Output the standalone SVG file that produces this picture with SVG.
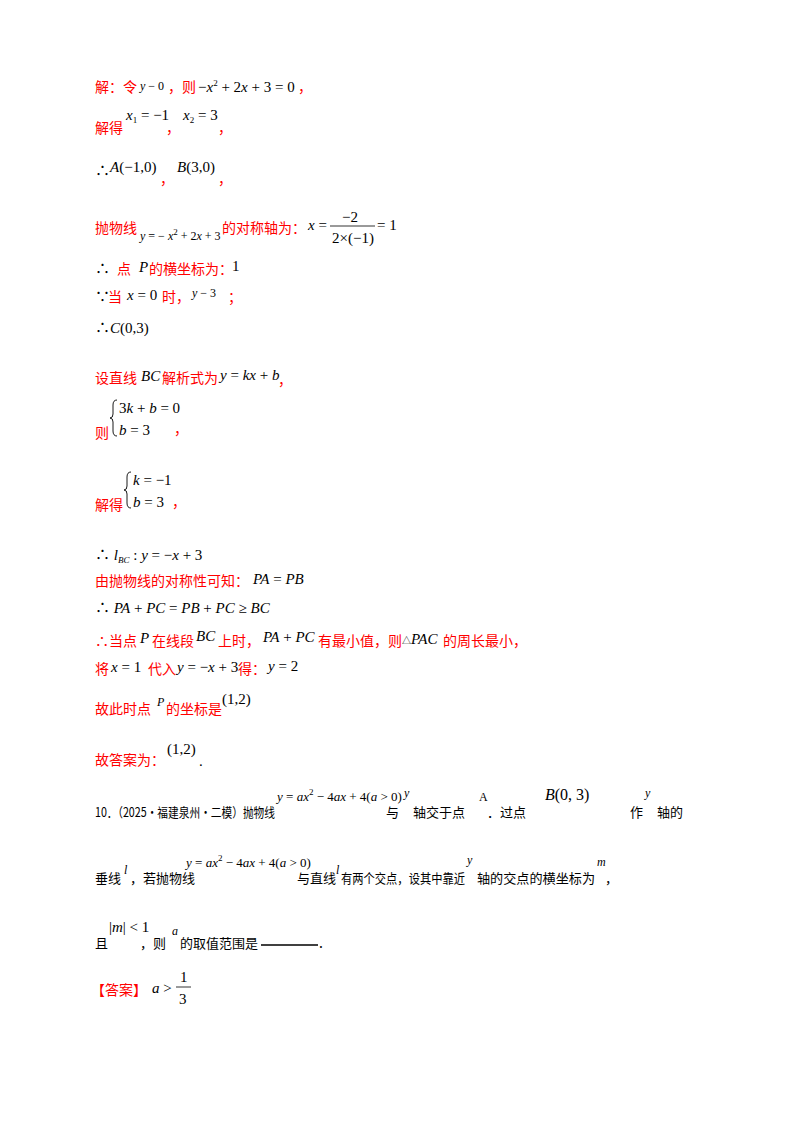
<svg xmlns="http://www.w3.org/2000/svg" width="800" height="1132" viewBox="0 0 800 1132">
<style>
text{font-family:"Noto Sans CJK SC","Liberation Sans",sans-serif;font-size:14px;fill:#000}
.k{font-size:13px}
.r{fill:#f00}
.m{font-family:"Liberation Serif","Noto Sans CJK SC",serif;font-size:15px}
.n{font-size:13px}
.i{font-style:italic}
.s{font-size:12px}
.t{font-size:9px}
.b{fill:none;stroke:#000;stroke-width:0.9}
</style>
<rect width="800" height="1132" fill="#fff"/>
<text x="95" y="92" class="r">解：令</text><text x="140" y="90" class="m s"><tspan class="i">y</tspan> − 0</text><text x="168" y="92" class="r">，则</text><text x="198" y="92" class="m">−<tspan class="i">x</tspan><tspan class="t" dy="-6">2</tspan><tspan dy="6"> + 2</tspan><tspan class="i">x</tspan> + 3 = 0</text><text x="298" y="92" class="r">，</text>
<text x="95" y="133" class="r">解得</text><text x="126" y="120" class="m"><tspan class="i">x</tspan><tspan class="t" dy="3">1</tspan><tspan dy="-3"> = −1</tspan></text><text x="166" y="133" class="r">，</text><text x="183" y="120" class="m"><tspan class="i">x</tspan><tspan class="t" dy="3">2</tspan><tspan dy="-3"> = 3</tspan></text><text x="218" y="133" class="r">，</text>
<text x="95" y="176" class="m">∴ </text><text x="110" y="172" class="m"><tspan class="i">A</tspan>(−1,0)</text><text x="160" y="184" class="r">，</text><text x="177" y="172" class="m"><tspan class="i">B</tspan>(3,0)</text><text x="218" y="184" class="r">，</text>
<text x="95" y="233" class="r">抛物线</text><text x="140" y="240" class="m s"><tspan class="i">y</tspan> = − <tspan class="i">x</tspan><tspan class="t" dy="-5">2</tspan><tspan dy="5"> + 2</tspan><tspan class="i">x</tspan> + 3</text><text x="222" y="233" class="r">的对称轴为：</text>
<text x="308" y="230" class="m"><tspan class="i">x</tspan> =</text><text x="342" y="222" class="m">−2</text><line x1="330" y1="226" x2="375" y2="226" stroke="#000" stroke-width="0.8"/><text x="332" y="243" class="m">2×(−1)</text><text x="377" y="230" class="m">= 1</text>
<text x="95" y="274" class="m">∴</text><text x="117" y="274" class="r">点</text><text x="139" y="272" class="m i">P</text><text x="149" y="274" class="r">的横坐标为：</text><text x="232" y="271" class="m">1</text>
<text x="95" y="302" class="m">∵</text><text x="108" y="302" class="r">当</text><text x="127" y="300" class="m"><tspan class="i">x</tspan> = 0</text><text x="162" y="302" class="r">时，</text><text x="192" y="297" class="m s"><tspan class="i">y</tspan> − 3</text><text x="228" y="302" class="r">；</text>
<text x="95" y="333" class="m">∴<tspan class="i">C</tspan>(0,3)</text>
<text x="95" y="383" class="r">设直线</text><text x="141" y="381" class="m i">BC</text><text x="162" y="383" class="r">解析式为</text><text x="220" y="380" class="m"><tspan class="i">y</tspan> = <tspan class="i">kx</tspan> + <tspan class="i">b</tspan></text><text x="278" y="385" class="r">，</text>
<text x="95" y="438" class="r">则</text><path class="b" d="M117,400 Q113,400 113,405 L113,414 Q113,418 110,418 Q113,418 113,422 L113,431 Q113,436 117,436"/><text x="119" y="413" class="m"><tspan>3</tspan><tspan class="i">k</tspan> + <tspan class="i">b</tspan> = 0</text><text x="119" y="435" class="m"><tspan class="i">b</tspan> = 3</text><text x="174" y="434" class="r">，</text>
<text x="95" y="510" class="r">解得</text><path class="b" d="M131,472 Q127,472 127,477 L127,486 Q127,490 124,490 Q127,490 127,494 L127,503 Q127,508 131,508"/><text x="133" y="485" class="m"><tspan class="i">k</tspan> = −1</text><text x="133" y="507" class="m"><tspan class="i">b</tspan> = 3</text><text x="172" y="507" class="r">，</text>
<text x="95" y="560" class="m">∴ <tspan class="i">l</tspan><tspan class="t i" dy="3">BC</tspan><tspan dy="-3"> : </tspan><tspan class="i">y</tspan> = −<tspan class="i">x</tspan> + 3</text>
<text x="95" y="586" class="r">由抛物线的对称性可知：</text><text x="253" y="584" class="m"><tspan class="i">PA</tspan> = <tspan class="i">PB</tspan></text>
<text x="95" y="613" class="m">∴ <tspan class="i">PA</tspan> + <tspan class="i">PC</tspan> = <tspan class="i">PB</tspan> + <tspan class="i">PC</tspan> ≥ <tspan class="i">BC</tspan></text>
<text x="95" y="646" class="r">∴当点</text><text x="140" y="643" class="m i">P</text><text x="152" y="646" class="r">在线段</text><text x="196" y="641" class="m i">BC</text><text x="218" y="646" class="r">上时，</text><text x="263" y="642" class="m"><tspan class="i">PA</tspan> + <tspan class="i">PC</tspan></text><text x="318" y="646" class="r">有最小值，则</text><text x="402" y="644" class="m"><tspan class="t">△</tspan><tspan class="i">PAC</tspan></text><text x="443" y="646" class="r">的周长最小，</text>
<text x="95" y="674" class="r">将</text><text x="111" y="672" class="m"><tspan class="i">x</tspan> = 1</text><text x="148" y="674" class="r">代入</text><text x="177" y="672" class="m"><tspan class="i">y</tspan> = −<tspan class="i">x</tspan> + 3</text><text x="238" y="674" class="r">得：</text><text x="268" y="671" class="m"><tspan class="i">y</tspan> = 2</text>
<text x="95" y="714" class="r">故此时点</text><text x="157" y="706" class="m i s">P</text><text x="166" y="714" class="r">的坐标是</text><text x="222" y="704" class="m">(1,2)</text>
<text x="95" y="765" class="r">故答案为：</text><text x="167" y="754" class="m">(1,2)</text><text x="199" y="766" class="m">.</text>
<text x="95" y="817" class="k" textLength="180" lengthAdjust="spacingAndGlyphs">10．（2025·福建泉州·二模）抛物线</text><text x="277" y="801" class="m n"><tspan class="i">y</tspan> = <tspan class="i">ax</tspan><tspan class="t" dy="-6">2</tspan><tspan dy="6"> − 4</tspan><tspan class="i">ax</tspan> + 4(<tspan class="i">a</tspan> &gt; 0)</text><text x="386" y="817" class="k">与</text><text x="404" y="797" class="m i s">y</text><text x="413" y="817" class="k">轴交于点</text><text x="479" y="801" class="m s">A</text><text x="487" y="817" class="k">．过点</text><text x="545" y="800" class="m" style="font-size:16px"><tspan class="i">B</tspan>(0, 3)</text><text x="630" y="817" class="k">作</text><text x="645" y="797" class="m i s">y</text><text x="657" y="817" class="k">轴的</text>
<text x="95" y="883" class="k">垂线</text><text x="124" y="874" class="m i s">l</text><text x="130" y="883" class="k">，若抛物线</text><text x="186" y="867" class="m n"><tspan class="i">y</tspan> = <tspan class="i">ax</tspan><tspan class="t" dy="-6">2</tspan><tspan dy="6"> − 4</tspan><tspan class="i">ax</tspan> + 4(<tspan class="i">a</tspan> &gt; 0)</text><text x="297" y="883" class="k">与直线</text><text x="336" y="874" class="m i s">l</text><text x="341" y="883" class="k" textLength="124" lengthAdjust="spacingAndGlyphs">有两个交点，设其中靠近</text><text x="467" y="864" class="m i s">y</text><text x="477" y="883" class="k" textLength="118" lengthAdjust="spacingAndGlyphs">轴的交点的横坐标为</text><text x="597" y="866" class="m i s">m</text><text x="605" y="883" class="k">，</text>
<text x="95" y="948" class="k">且</text><text x="109" y="932" class="m">|<tspan class="i">m</tspan>| &lt; 1</text><text x="140" y="948" class="k">，则</text><text x="172" y="935" class="m i s">a</text><text x="180" y="948" class="k">的取值范围是</text><line x1="261" y1="945" x2="318" y2="945" stroke="#000" stroke-width="1.5"/><text x="319" y="948">.</text>
<text x="91" y="995" class="r">【答案】</text><text x="152" y="993" class="m"><tspan class="i">a</tspan> &gt;</text><text x="180" y="982" class="m">1</text><line x1="176" y1="987" x2="191" y2="987" stroke="#000" stroke-width="0.8"/><text x="179" y="1004" class="m">3</text>
</svg>
